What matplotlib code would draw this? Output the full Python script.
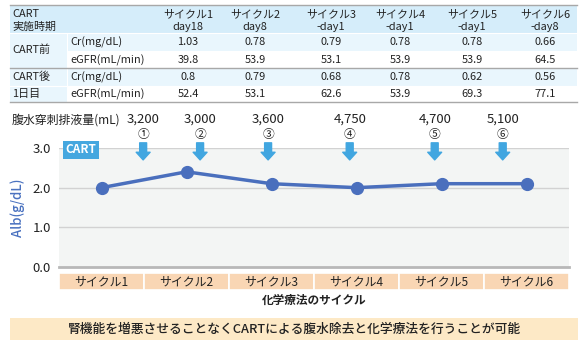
import matplotlib
matplotlib.use("Agg")
import matplotlib.pyplot as plt
from matplotlib.patches import Rectangle

plt.rcParams['font.family'] = ['Noto Sans CJK JP', 'DejaVu Sans']

# --- data ---
cycles = ['サイクル1', 'サイクル2', 'サイクル3', 'サイクル4', 'サイクル5', 'サイクル6']
timing = ['day18', 'day8', '-day1', '-day1', '-day1', '-day8']
cr_pre = ['1.03', '0.78', '0.79', '0.78', '0.78', '0.66']
egfr_pre = ['39.8', '53.9', '53.1', '53.9', '53.9', '64.5']
cr_post = ['0.8', '0.79', '0.68', '0.78', '0.62', '0.56']
egfr_post = ['52.4', '53.1', '62.6', '53.9', '69.3', '77.1']
alb = [2.0, 2.4, 2.1, 2.0, 2.1, 2.1]
drain_ml = ['3,200', '3,000', '3,600', '4,750', '4,700', '5,100']
drain_no = ['①', '②', '③', '④', '⑤', '⑥']
arrow_x = [0.49, 1.16, 1.96, 2.92, 3.92, 4.72]

W, H = 587, 347
fig = plt.figure(figsize=(W / 100, H / 100), dpi=100)

# overlay in pixel units for the table and banner
ov = fig.add_axes([0, 0, 1, 1])
ov.set_xlim(0, W)
ov.set_ylim(H, 0)
ov.axis('off')

hdr_c = '#d5edfa'
lt_c = '#e9f6fd'
txt_c = '#222222'
fs_t = 7.9

# table backgrounds
ov.add_patch(Rectangle((10, 5), 567, 28, color=hdr_c, lw=0))
for y0 in (33, 68):
    ov.add_patch(Rectangle((10, y0), 57, 35, color=lt_c, lw=0))
    ov.add_patch(Rectangle((68, y0), 509, 18, color=lt_c, lw=0))
for y in (5, 68, 102):
    ov.plot([10, 577], [y, y], color='#a8a8a8', lw=1.0)
ov.plot([10, 577], [33, 33], color='white', lw=0.8)
ov.plot([10, 577], [86, 86], color='white', lw=0.8)

ov.text(12, 14, 'CART', fontsize=fs_t, va='center', color=txt_c)
ov.text(12, 27, '実施時期', fontsize=fs_t, va='center', color=txt_c)
ov.text(12, 50, 'CART前', fontsize=fs_t, va='center', color=txt_c)
ov.text(12, 77, 'CART後', fontsize=fs_t, va='center', color=txt_c)
ov.text(12, 94, '1日目', fontsize=fs_t, va='center', color=txt_c)
for y in (42, 77):
    ov.text(70, y, 'Cr(mg/dL)', fontsize=fs_t, va='center', color=txt_c)
for y in (60, 94):
    ov.text(70, y, 'eGFR(mL/min)', fontsize=fs_t, va='center', color=txt_c)

col_x = [188, 255, 331, 400, 472, 545]
for i, cx in enumerate(col_x):
    ov.text(cx, 14, cycles[i], fontsize=fs_t, ha='center', va='center', color=txt_c)
    ov.text(cx, 27, timing[i], fontsize=fs_t, ha='center', va='center', color=txt_c)
    ov.text(cx, 42, cr_pre[i], fontsize=fs_t, ha='center', va='center', color=txt_c)
    ov.text(cx, 60, egfr_pre[i], fontsize=fs_t, ha='center', va='center', color=txt_c)
    ov.text(cx, 77, cr_post[i], fontsize=fs_t, ha='center', va='center', color=txt_c)
    ov.text(cx, 94, egfr_post[i], fontsize=fs_t, ha='center', va='center', color=txt_c)

# --- albumin chart ---
ax = fig.add_axes([59 / W, (H - 267) / H, 510 / W, 119 / H])
ax.set_facecolor('#f3f5f4')
ax.set_xlim(-0.5, 5.5)
ax.set_ylim(0, 3)
for s in ax.spines.values():
    s.set_visible(False)
for v in (1, 2, 3):
    ax.axhline(v, color='#d2d2d2', lw=1, zorder=1)
ax.axhline(0, color='#b8b8b8', lw=2, zorder=1, clip_on=False)
ax.plot(range(len(alb)), alb, color='#4a6fbd', lw=2.5, marker='o', ms=8.5, zorder=3)
ax.set_yticks([0, 1, 2, 3])
ax.set_yticklabels(['0.0', '1.0', '2.0', '3.0'], fontsize=9.5, color=txt_c)
ax.tick_params(axis='y', length=0, pad=6)
ax.set_xticks([])
ax.set_ylabel('Alb(g/dL)', color='#4a72c0', fontsize=9.5, fontweight='medium', labelpad=5)

# CART tag
ax.text(-0.5 + 22 / 85, 3 - 2 / 39.7, 'CART', color='white', fontsize=8.5,
        fontweight='bold', ha='center', va='center', zorder=5,
        bbox=dict(boxstyle='square,pad=0.22', fc='#45a7df', ec='none'))

# drainage arrows and volumes
for i, x in enumerate(arrow_x):
    ax.annotate('', xy=(x, 2.7), xytext=(x, 3.13),
                arrowprops=dict(arrowstyle='simple,head_width=1.0,head_length=0.55,tail_width=0.5',
                                mutation_scale=10, color='#41a6e0', shrinkA=0, shrinkB=0),
                annotation_clip=False)
    ax.text(x, 3.72, drain_ml[i], fontsize=9.5, ha='center', va='center', color=txt_c)
    ax.text(x, 3.33, drain_no[i], fontsize=8.5, ha='center', va='center', color=txt_c)
ov.text(12, 120, '腹水穿刺排液量(mL)', fontsize=8.6, va='center', color=txt_c)

# cycle band under the chart
bx = fig.add_axes([59 / W, (H - 290) / H, 510 / W, 17 / H])
bx.set_xlim(-0.5, 5.5)
bx.set_ylim(0, 1)
bx.axis('off')
bx.bar(range(len(cycles)), [1] * len(cycles), width=1, color='#f9d6b4',
       edgecolor='white', lw=1.2)
for i, c in enumerate(cycles):
    bx.text(i, 0.5, c, fontsize=8.6, ha='center', va='center', color=txt_c)

ov.text(314, 300, '化学療法のサイクル', fontsize=8.4, fontweight='bold',
        ha='center', va='center', color=txt_c)

# summary banner
ov.add_patch(Rectangle((10, 318), 568, 22, color='#fde9c6', lw=0))
ov.text(294, 329, '腎機能を増悪させることなくCARTによる腹水除去と化学療法を行うことが可能',
        fontsize=9.2, fontweight='medium', ha='center', va='center', color=txt_c)

fig.savefig('out.png', dpi=100)
